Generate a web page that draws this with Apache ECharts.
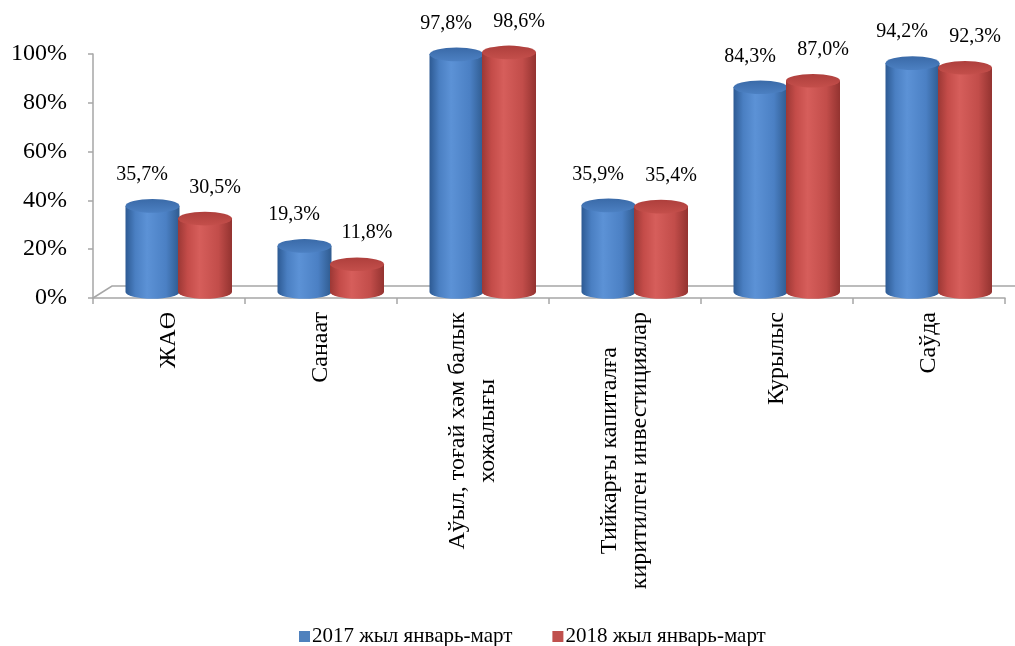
<!DOCTYPE html>
<html>
<head>
<meta charset="utf-8">
<script src="https://cdn.jsdelivr.net/npm/echarts@6/dist/echarts.min.js"></script>
<style>
html,body{margin:0;padding:0;background:#fff;}
#main{width:1015px;height:646px;}
</style>
</head>
<body>
<div id="main"></div>
<script>
const categories = ['ЖАӨ', 'Санаат', 'Аўыл, тоғай хәм балык\nхожалығы', 'Тийкарғы капиталға\nкиритилген инвестициялар', 'Курылыс', 'Саўда'];
const values2017 = [35.7, 19.3, 97.8, 35.9, 84.3, 94.2];
const values2018 = [30.5, 11.8, 98.6, 35.4, 87.0, 92.3];
const seriesNames = ['2017 жыл январь-март', '2018 жыл январь-март'];
const yMin = 0, yMax = 100, yStep = 20;

const FONT = '"Liberation Serif", "Times New Roman", serif';

const palettes = [
  { base: '#4f81bd', body: ['#2d5a93', '#4a7fc2', '#5c92d6', '#4b80c4', '#2f5b8f'], top: ['#3a6aa8', '#4c80c2'] },
  { base: '#c0504d', body: ['#9c3835', '#c44c49', '#d65e5b', '#c24d4a', '#933330'], top: ['#ae3f3c', '#c44f4b'] }
];

function fmt(v) { return v.toFixed(1).replace('.', ',') + '%'; }

function makeCylinder(sIdx) {
  const pal = palettes[sIdx];
  return function (params, api) {
    const cat = api.value(0), val = api.value(1);
    const top = api.coord([cat, val]);
    const base = api.coord([cat, 0]);
    const bw = api.size([1, 0])[0];
    const k = bw / 152;
    const cx = top[0] + (sIdx === 0 ? -16.5 : 36) * k;
    const rx = 27 * k, ry = 6.8;
    const yTop = top[1] - 5, yBot = base[1] - 6;
    const x1 = cx - rx, x2 = cx + rx;
    const bodyPath = 'M' + x1 + ' ' + yTop + ' L' + x1 + ' ' + yBot +
      ' A' + rx + ' ' + ry + ' 0 0 0 ' + x2 + ' ' + yBot +
      ' L' + x2 + ' ' + yTop + ' Z';
    const topPath = 'M' + x1 + ' ' + yTop +
      ' A' + rx + ' ' + ry + ' 0 1 0 ' + x2 + ' ' + yTop +
      ' A' + rx + ' ' + ry + ' 0 1 0 ' + x1 + ' ' + yTop + ' Z';
    const b = pal.body;
    return {
      type: 'group',
      children: [
        {
          type: 'path',
          shape: { pathData: bodyPath },
          style: {
            fill: new echarts.graphic.LinearGradient(0, 0, 1, 0, [
              { offset: 0, color: b[0] }, { offset: 0.18, color: b[1] },
              { offset: 0.4, color: b[2] }, { offset: 0.75, color: b[3] },
              { offset: 1, color: b[4] }
            ])
          }
        },
        {
          type: 'path',
          shape: { pathData: topPath },
          style: {
            fill: new echarts.graphic.LinearGradient(0, 0, 0, 1, [
              { offset: 0, color: pal.top[0] }, { offset: 1, color: pal.top[1] }
            ])
          }
        },
        {
          type: 'text',
          x: cx + (sIdx === 0 ? -10.5 : 10) * k,
          y: yTop - 31,
          style: {
            text: fmt(val),
            textAlign: 'center',
            textVerticalAlign: 'middle',
            fontFamily: FONT,
            fontSize: 20,
            fill: '#000'
          }
        }
      ]
    };
  };
}

function renderFloor(params, api) {
  const c0 = api.coord([0, 0]);
  const bw = api.size([1, 0])[0];
  const left = c0[0] - bw / 2;
  const right = left + bw * categories.length;
  const y0 = c0[1];
  const dx = 19, dy = 12;
  return {
    type: 'polyline',
    shape: { points: [[left, y0], [left + dx, y0 - dy], [right + dx, y0 - dy]] },
    style: { stroke: '#a6a6a6', lineWidth: 1.5, fill: null }
  };
}

const chart = echarts.init(document.getElementById('main'), null, { renderer: 'canvas' });
chart.setOption({
  animation: false,
  backgroundColor: '#ffffff',
  grid: { left: 93, right: 10, top: 54, bottom: 348, containLabel: false },
  legend: {
    data: seriesNames,
    left: 294,
    top: 621,
    icon: 'rect',
    itemWidth: 11,
    itemHeight: 11,
    itemGap: 40,
    textStyle: { fontFamily: FONT, fontSize: 21, color: '#000', padding: [0, 0, 0, -3] }
  },
  xAxis: {
    type: 'category',
    data: categories,
    axisLine: { lineStyle: { color: '#a6a6a6', width: 1.5 } },
    axisTick: { show: true, length: 6, lineStyle: { color: '#a6a6a6', width: 1.5 } },
    axisLabel: {
      rotate: 90,
      margin: 14,
      interval: 0,
      fontFamily: FONT,
      fontSize: 24,
      color: '#000',
      formatter: function (v) { return v.split('\n').map(function (l) { return '{c|' + l + '}'; }).join('\n'); },
      rich: { c: { align: 'center', fontFamily: FONT, fontSize: 24, lineHeight: 30, color: '#000' } }
    },
    splitLine: { show: false }
  },
  yAxis: {
    type: 'value',
    min: yMin,
    max: yMax,
    interval: yStep,
    axisLine: { show: true, lineStyle: { color: '#a6a6a6', width: 1.5 } },
    axisTick: { show: true, length: 5, lineStyle: { color: '#a6a6a6', width: 1.5 } },
    axisLabel: { formatter: '{value}%', margin: 26, fontFamily: FONT, fontSize: 24, color: '#000' },
    splitLine: { show: false }
  },
  series: [
    {
      type: 'custom',
      name: 'floor',
      renderItem: renderFloor,
      data: [[0, 0]],
      silent: true,
      z: 1
    },
    {
      type: 'custom',
      name: seriesNames[0],
      itemStyle: { color: palettes[0].base },
      renderItem: makeCylinder(0),
      data: values2017.map(function (v, i) { return [i, v]; }),
      encode: { x: 0, y: 1 },
      z: 2
    },
    {
      type: 'custom',
      name: seriesNames[1],
      itemStyle: { color: palettes[1].base },
      renderItem: makeCylinder(1),
      data: values2018.map(function (v, i) { return [i, v]; }),
      encode: { x: 0, y: 1 },
      z: 3
    }
  ]
});
</script>
</body>
</html>
